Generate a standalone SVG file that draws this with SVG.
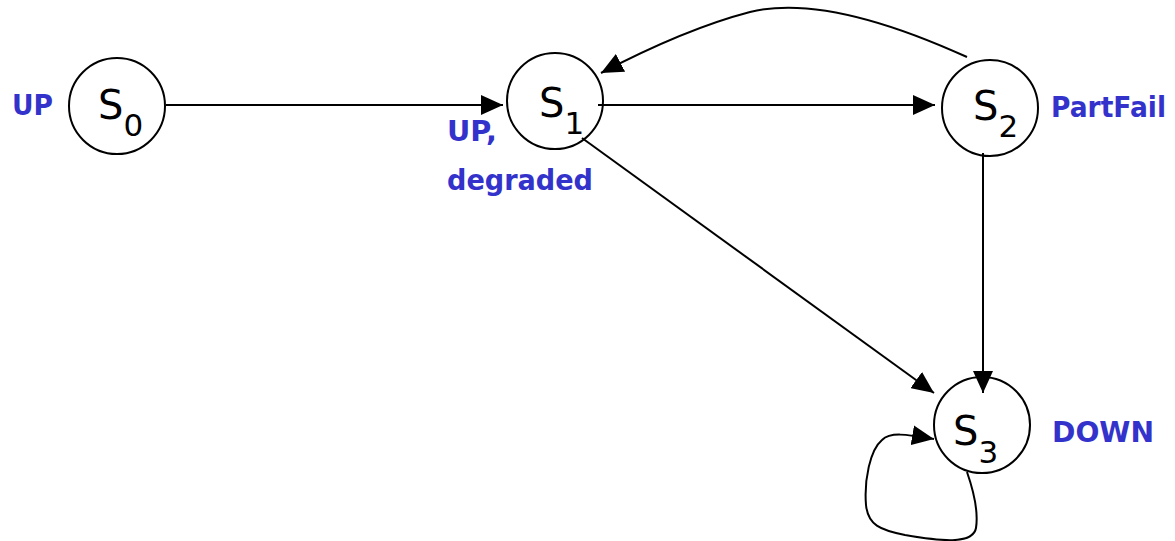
<svg xmlns="http://www.w3.org/2000/svg" width="1175" height="541" viewBox="0 0 1175 541">
<style>
.node{fill:none;stroke:#000;stroke-width:2}
.st{font-family:"DejaVu Sans",Verdana,sans-serif;font-size:40px;fill:#000}
.sub{font-size:31px}
.lbl{font-family:"DejaVu Sans","Liberation Sans",sans-serif;font-weight:bold;font-size:29px;fill:#3333CC}
.edge{fill:none;stroke:#000;stroke-width:2}
</style>
<defs>
<marker id="arr" viewBox="0 0 22 20" refX="22" refY="10" markerWidth="22" markerHeight="20" markerUnits="userSpaceOnUse" orient="auto">
<path d="M0,0 L22,10 L0,20 z" fill="#000"/>
</marker>
</defs>
<rect width="1175" height="541" fill="#fff"/>
<g id="connectors">
<path class="edge" d="M166,105 L503,105" marker-end="url(#arr)"/>
<path class="edge" d="M598,105 L935,105" marker-end="url(#arr)"/>
<path class="edge" d="M582,138 L934,393" marker-end="url(#arr)"/>
<path class="edge" d="M983,153 L983,393" marker-end="url(#arr)"/>
<path class="edge" d="M967,57 C890,22 810,-3 750,12 C700,25 645,50 601,73" marker-end="url(#arr)"/>
<path class="edge" d="M967,472 C975,495 978,515 976,528 C973,545 940,541 905,535 C880,530 868,525 866,505 C864,480 870,450 882,440 C890,432 905,434 934,439" marker-end="url(#arr)"/>
</g>
<g id="S0">
<circle class="node" cx="117" cy="106" r="48"/>
<text class="st" x="98" y="119">S<tspan class="sub" dy="17">0</tspan></text>
<text class="lbl" x="12" y="115" textLength="41" lengthAdjust="spacingAndGlyphs">UP</text>
</g>
<g id="S1">
<circle class="node" cx="555" cy="101" r="48"/>
<text class="st" x="539" y="117">S<tspan class="sub" dy="17">1</tspan></text>
<text class="lbl" x="447" y="141" textLength="50" lengthAdjust="spacingAndGlyphs">UP,</text>
<text class="lbl" x="447" y="190" textLength="146" lengthAdjust="spacingAndGlyphs">degraded</text>
</g>
<g id="S2">
<circle class="node" cx="990" cy="108" r="48"/>
<text class="st" x="973" y="120">S<tspan class="sub" dy="17">2</tspan></text>
<text class="lbl" x="1051" y="117" font-size="28" textLength="115" lengthAdjust="spacingAndGlyphs">PartFail</text>
</g>
<g id="S3">
<circle class="node" cx="982" cy="425" r="48"/>
<text class="st" x="953" y="445">S<tspan class="sub" dy="18">3</tspan></text>
<text class="lbl" x="1052" y="442" textLength="102" lengthAdjust="spacingAndGlyphs">DOWN</text>
</g>
</svg>
